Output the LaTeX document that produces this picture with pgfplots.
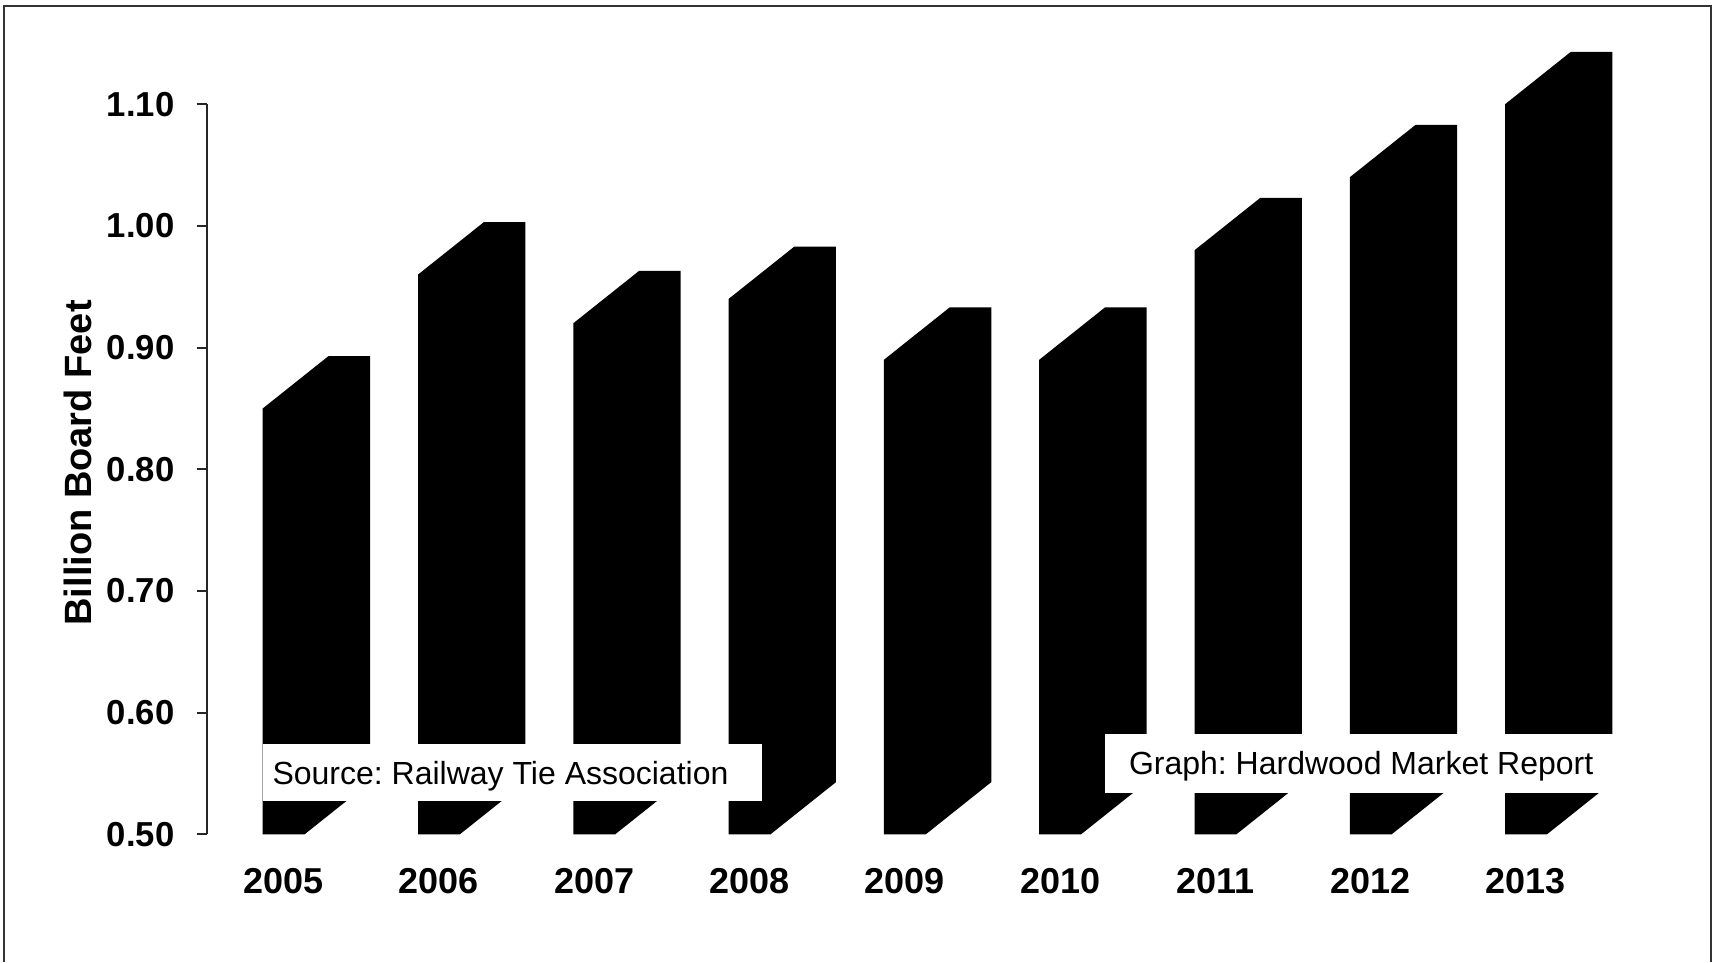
\documentclass[border=0pt]{standalone}
\usepackage{fontspec}
\setmainfont{Liberation Sans}
\usepackage{pgfplots}
\usepackage{pgfplotstable}
\pgfplotsset{compat=1.18}
\frenchspacing

\pgfplotstableread{
idx year value
0 2005 0.85
1 2006 0.96
2 2007 0.92
3 2008 0.94
4 2009 0.89
5 2010 0.89
6 2011 0.98
7 2012 1.04
8 2013 1.10
}\datatable

\begin{document}
\begin{tikzpicture}
\useasboundingbox (0,0) rectangle (515.7pt,288.6pt);
\draw[line width=0.55pt, black!80] (1.3pt,0pt) -- (1.3pt,286.9pt) -- (513.3pt,286.9pt) -- (513.3pt,0pt);
\begin{axis}[
  at={(62pt,38.25pt)}, anchor=south west,
  scale only axis, width=433.05pt, height=219.1pt,
  xmin=-0.495, xmax=8.8, ymin=0.5, ymax=1.1,
  clip=false,
  axis lines*=left,
  x axis line style={draw=none},
  y axis line style={line width=0.6pt, black!85},
  xtick={0,1,2,3,4,5,6,7,8},
  xticklabels={2005,2006,2007,2008,2009,2010,2011,2012,2013},
  xtick style={draw=none},
  ytick={0.5,0.6,0.7,0.8,0.9,1.0,1.1},
  ytick style={line width=0.6pt, black!85},
  tick align=outside, major tick length=3pt,
  /pgf/number format/assume math mode=true,
  yticklabel style={/pgf/number format/fixed, /pgf/number format/fixed zerofill,
    /pgf/number format/precision=2, font=\fontsize{10.4}{12}\selectfont\bfseries,
    inner sep=0pt, xshift=-6.5pt},
  xticklabel style={font=\fontsize{10.8}{12}\selectfont\bfseries, inner sep=0pt, yshift=-7pt},
  ylabel={Billion Board Feet},
  ylabel style={at={(axis description cs:-0.0895,0.5088)}, anchor=center,
    font=\fontsize{11.4}{13}\selectfont\bfseries},
]
\pgfplotsinvokeforeach{0,...,8}{
  \pgfplotstablegetelem{#1}{value}\of\datatable
  \pgfmathsetmacro\vf{\pgfplotsretval}
  \pgfmathsetmacro\vb{\pgfplotsretval+0.043}
  \pgfmathsetmacro\xa{#1-0.134}
  \pgfmathsetmacro\xb{#1+0.134}
  \pgfmathsetmacro\xc{#1+0.289}
  \pgfmathsetmacro\xd{#1+0.557}
  \edef\barplot{\noexpand\addplot[fill=black, draw=none, forget plot] coordinates {(\xa,0.5) (\xb,0.5) (\xd,0.543) (\xd,\vb) (\xc,\vb) (\xa,\vf)} -- cycle;}
  \barplot
}
\fill[white] (axis cs:-0.134,0.5277) rectangle (axis cs:3.083,0.5745);
\node[anchor=base west, inner sep=0pt, font=\fontsize{9.6}{11}\selectfont] at (axis cs:-0.075,0.5408) {Source: Railway Tie Association};
\fill[white] (axis cs:5.29,0.534) rectangle (axis cs:8.606,0.5825);
\node[anchor=base west, inner sep=0pt, font=\fontsize{9.6}{11}\selectfont] at (axis cs:5.44,0.549) {Graph: Hardwood Market Report};
\end{axis}
\end{tikzpicture}
\end{document}
